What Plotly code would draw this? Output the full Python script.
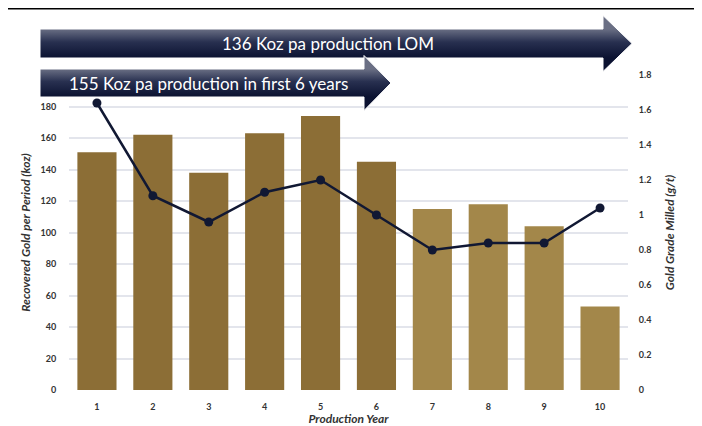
import plotly.graph_objects as go

# Data
years = ['1', '2', '3', '4', '5', '6', '7', '8', '9', '10']
recovered_gold = [151, 162, 138, 163, 174, 145, 115, 118, 104, 53]
grade_milled = [1.64, 1.11, 0.96, 1.13, 1.20, 1.00, 0.80, 0.84, 0.84, 1.04]
left_ticks = [0, 20, 40, 60, 80, 100, 120, 140, 160, 180, 200]
left_labels = ['0', '20', '40', '60', '80', '100', '120', '140', '160', '180', '']
right_ticks = [0, 0.2, 0.4, 0.6, 0.8, 1.0, 1.2, 1.4, 1.6, 1.8]
right_labels = ['0', '0.2', '0.4', '0.6', '0.8', '1', '1.2', '1.4', '1.6', '1.8']
banner_texts = ['136 Koz pa production LOM', '155 Koz pa production in first 6 years']

# the page puts the figure 8px in from the top-left corner (default body margin),
# so the figure is sized to fill the window and positions are given in window pixels
OFF = 8
W, H = 702 - OFF, 426 - OFF


def px(x):
    return (x - OFF) / W


def py(y):
    return 1 - (y - OFF) / H


DARK = '#8c6e36'
LIGHT = '#a3874a'
NAVY = '#111833'
bar_colors = [DARK] * 6 + [LIGHT] * 4

fig = go.Figure()

fig.add_trace(go.Bar(
    x=years, y=recovered_gold,
    marker_color=bar_colors,
    marker_line_width=0,
    hoverinfo='skip',
))

fig.add_trace(go.Scatter(
    x=years, y=grade_milled,
    yaxis='y2',
    mode='lines+markers',
    line=dict(color=NAVY, width=2.5),
    marker=dict(color=NAVY, size=9),
    hoverinfo='skip',
))

# banner arrows, drawn in window pixels on an invisible full-page subplot
arrows = [
    dict(x0=40, x1=603, top=29, bot=58, tip=632),
    dict(x0=40, x1=364, top=69, bot=97, tip=391),
]
for a in arrows:
    mid = (a['top'] + a['bot']) / 2
    half = (a['bot'] - a['top']) / 2 + 13.5
    xs = [a['x0'], a['x1'], a['x1'], a['tip'], a['x1'], a['x1'], a['x0'], a['x0']]
    ys = [a['top'], a['top'], mid - half, mid, mid + half, a['bot'], a['bot'], a['top']]
    fig.add_trace(go.Scatter(
        x=xs, y=ys, xaxis='x3', yaxis='y3',
        mode='lines', fill='toself',
        line=dict(color='white', width=1),
        fillgradient=dict(type='vertical',
                          colorscale=[[0, '#6a6f84'], [0.45, '#283050'], [1, '#0b1231']],
                          start=a['top'], stop=a['bot']),
        hoverinfo='skip',
    ))

banner_font = dict(family='Lato', size=17, color='white')
fig.add_annotation(x=px(328), y=py(43), xref='paper', yref='paper',
                   xanchor='center', yanchor='middle',
                   text=banner_texts[0], showarrow=False, font=banner_font)
fig.add_annotation(x=px(209), y=py(83), xref='paper', yref='paper',
                   xanchor='center', yanchor='middle',
                   text=banner_texts[1], showarrow=False, font=banner_font)

# heading rule at the very top
fig.add_shape(type='line', xref='paper', yref='paper',
              x0=px(8), x1=1, y0=py(8), y1=py(8),
              line=dict(color='black', width=3))

tick_font = dict(family='Lato', size=9, color='#333333', weight='bold')
title_font = dict(family='Lato', size=12, color='#333333', style='italic', weight='bold')

fig.update_layout(
    width=W, height=H,
    margin=dict(l=0, r=0, t=0, b=0, autoexpand=False),
    paper_bgcolor='white',
    plot_bgcolor='rgba(0,0,0,0)',
    showlegend=False,
    bargap=0.3,
    hovermode=False,
    xaxis=dict(
        domain=[px(69), px(628)],
        type='category',
        range=[-0.5, 9.5],
        automargin=False,
        showgrid=False,
        tickfont=tick_font,
        ticks='outside', ticklen=8, tickcolor='rgba(0,0,0,0)',
        title=dict(text='Production Year', font=title_font, standoff=1),
    ),
    yaxis=dict(
        domain=[py(390), py(75)],
        range=[0, 200],
        automargin=False,
        tickvals=left_ticks, ticktext=left_labels,
        gridcolor='#e3e5ec', gridwidth=1.5,
        zeroline=False,
        tickfont=tick_font,
        ticks='outside', ticklen=10, tickcolor='rgba(0,0,0,0)',
        title=dict(text='Recovered Gold per Period (koz)', font=title_font, standoff=7),
    ),
    yaxis2=dict(
        overlaying='y', side='right',
        range=[0, 1.8],
        automargin=False,
        tickvals=right_ticks, ticktext=right_labels,
        showgrid=False, zeroline=False,
        tickfont=tick_font,
        ticks='outside', ticklen=8, tickcolor='rgba(0,0,0,0)',
        title=dict(text='Gold Grade Milled (g/t)', font=title_font, standoff=15),
    ),
    xaxis3=dict(domain=[0, 1], range=[OFF, OFF + W], visible=False, anchor='y3', automargin=False),
    yaxis3=dict(domain=[0, 1], range=[OFF + H, OFF], visible=False, anchor='x3', automargin=False),
)

fig.write_html("out.html")
